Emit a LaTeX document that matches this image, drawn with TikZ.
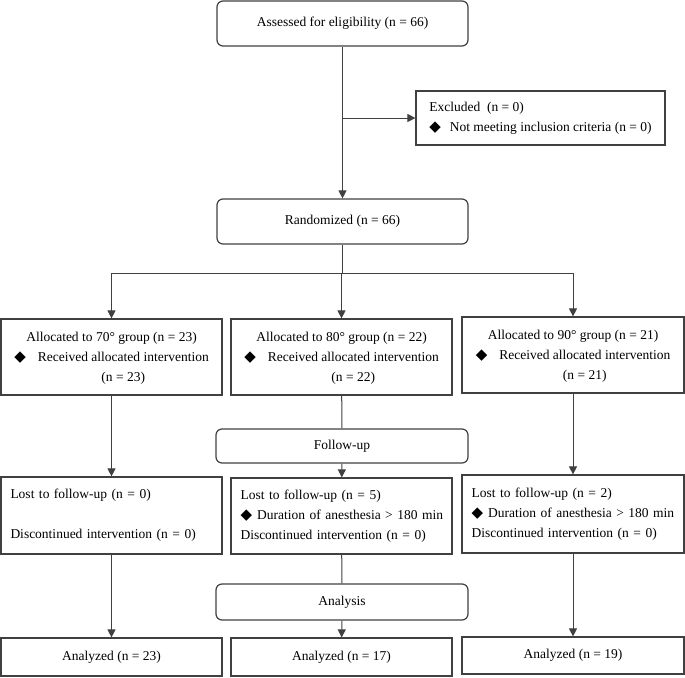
\documentclass[tikz,border=0pt]{standalone}
\usepackage{fontspec}
\setmainfont{Liberation Serif}
\newfontfamily\symfont{DejaVu Sans}
\usetikzlibrary{arrows.meta}
\newcommand{\dmd}{{\symfont\fontsize{15}{15}\selectfont ◆}}

\begin{document}
\begin{tikzpicture}[x=1pt,y=-1pt,
    font=\fontsize{13.5}{20}\selectfont,
    line/.style={draw=black!75,line width=1pt},
    arr/.style={line,-{Triangle[length=8pt,width=8pt]}},
    box/.style={draw=black!75,line width=1.2pt,inner sep=0pt,
      minimum width=#1,minimum height=76pt},
    rbox/.style={box=251pt,rounded corners=6pt,minimum height=45pt},
    lbox/.style={box=#1,text width=#1-19pt,align=left}]
  \useasboundingbox (0,0) rectangle (685,677);
  \node[rbox] (assess) at (342.5,23.5) {Assessed for eligibility (n = 66)};
  \node[box=249pt,minimum height=54pt,align=left] (excl) at (540.5,118)
    {Excluded\ \ (n = 0)\\ \dmd\hspace{9pt}Not meeting inclusion criteria (n = 0)};
  \node[rbox] (rand) at (342.5,221.5) {Randomized (n = 66)};
  % allocation
  \node[box=221pt] (g70) at (111.5,357) {\begin{tabular}{@{}c@{\hspace{12pt}}c@{}}
    \multicolumn{2}{c}{Allocated to 70° group (n = 23)}\\
    \dmd & Received allocated intervention\\ & (n = 23)\end{tabular}};
  \node[box=221pt] (g80) at (341.5,357) {\begin{tabular}{@{}c@{\hspace{12pt}}c@{}}
    \multicolumn{2}{c}{Allocated to 80° group (n = 22)}\\
    \dmd & Received allocated intervention\\ & (n = 22)\end{tabular}};
  \node[box=222pt] (g90) at (573,355) {\begin{tabular}{@{}c@{\hspace{12pt}}c@{}}
    \multicolumn{2}{c}{Allocated to 90° group (n = 21)}\\
    \dmd & Received allocated intervention\\ & (n = 21)\end{tabular}};
  \node[rbox,minimum width=252pt,minimum height=34pt] (fu) at (342,446) {Follow-up};
  % follow-up
  \node[lbox=221pt,minimum height=77pt] (lost70) at (111.5,515.5)
    {Lost to follow-up (n = 0)\\[20pt] Discontinued intervention (n = 0)};
  \node[lbox=221pt,minimum height=76pt] (lost80) at (341.5,516)
    {Lost to follow-up (n = 5)\\ \mbox{\dmd\hspace{5pt}Duration of anesthesia > 180 min}\\ Discontinued intervention (n = 0)};
  \node[lbox=222pt,minimum height=78pt] (lost90) at (573,514)
    {Lost to follow-up (n = 2)\\ \mbox{\dmd\hspace{5pt}Duration of anesthesia > 180 min}\\ Discontinued intervention (n = 0)};
  \node[rbox,minimum width=252pt,minimum height=36pt] (ana) at (342,602) {Analysis};
  % analysis
  \node[box=221pt,minimum height=38pt] (an70) at (111.5,657) {Analyzed (n = 23)};
  \node[box=221pt,minimum height=38pt] (an80) at (341.5,657) {Analyzed (n = 17)};
  \node[box=222pt,minimum height=37pt] (an90) at (573,655.5) {Analyzed (n = 19)};
  % connectors
  \draw[arr] (assess) -- (rand);
  \coordinate (ex) at (assess.south |- excl.west);
  \draw[arr] (ex) -- (excl.west);
  \coordinate (split) at (342.5,273);
  \draw[line] (rand) -- (split);
  \draw[arr] (split) -| (g70.north);
  \draw[arr] (split) -- (split -| g80.north) -- (g80.north);
  \draw[arr] (split) -| (g90.north);
  \draw[arr] (g70) -- (lost70);
  \draw[line] (g80) -- (fu);
  \draw[arr] (fu) -- (lost80);
  \draw[arr] (g90) -- (lost90);
  \draw[arr] (lost70) -- (an70);
  \draw[line] (lost80) -- (ana);
  \draw[arr] (ana) -- (an80);
  \draw[arr] (lost90) -- (an90);
\end{tikzpicture}
\end{document}
